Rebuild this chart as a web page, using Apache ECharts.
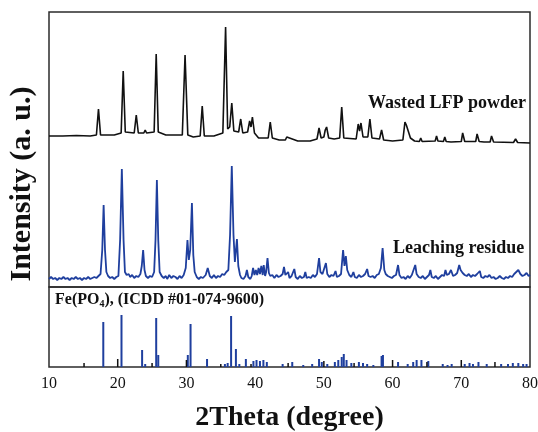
<!DOCTYPE html>
<html>
<head>
<meta charset="utf-8">
<style>html,body{margin:0;padding:0;background:#fff}#c{width:538px;height:432px}</style>
<script src="https://cdn.jsdelivr.net/npm/echarts@6/dist/echarts.min.js"></script>
</head>
<body>
<div id="c"></div>
<script>
// ---- data (2Theta in degrees, intensity in arbitrary units) ----
const xTicks = [10, 20, 30, 40, 50, 60, 70, 80];
const lfpPowder = [
[10.0,7],[12,7],[14,7.5],[16,7],[16.9,8],[17.2,34],[17.5,8],[19.5,8],[20.5,10],[20.8,72],[21.1,11],
[22.4,10],[22.7,28],[23.0,10],[23.8,10],[24.0,13],[24.2,10],[25.3,11],[25.6,89],[25.9,11],[27,8],
[29.4,8],[29.8,88],[30.2,8],[31,6],[32.0,7],[32.3,37],[32.6,7],[34,7],[35.3,10],[35.7,116],[36.0,14],
[36.3,16],[36.6,40],[36.9,12],[37.6,11],[37.9,24],[38.2,10],[38.9,11],[39.2,22],[39.4,16],[39.6,26],
[39.9,10],[40.5,5],[41.9,5],[42.2,21],[42.5,5],[43.5,3],[44.4,3],[44.6,6],[44.8,4],[45.0,5],[45.2,3],
[46.2,2],[46.4,3],[46.6,2],[48,2],[49.0,4],[49.3,15],[49.6,5],[50.0,6],[50.2,13],[50.4,16],[50.7,5],
[51.5,4],[52.3,5],[52.6,36],[52.9,5],[54.7,4],[55.0,19],[55.2,12],[55.4,20],[55.7,6],[56.4,6],[56.7,24],
[57.0,5],[58.1,4],[58.4,13],[58.7,3],[60,2],[61.5,3],[61.8,21],[62.0,18],[62.2,20],[62.6,5],[63.2,2],
[63.9,1.5],[64.1,5],[64.3,1.5],[66.2,2],[66.4,7],[66.6,2],[67.4,1.5],[67.6,6],[67.8,1.5],[68.5,1],
[70.0,1.5],[70.2,10],[70.5,1.5],[72.1,1.5],[72.3,9],[72.6,1.5],[73.3,1],[74.2,1],[74.4,7],[74.7,1],
[77.6,0.5],[77.9,4],[78.2,0.5],[80,0]
];
const leachingResidue = [
[10.0,1],[10.3,3],[10.6,1],[10.9,2],[11.2,0],[11.5,2],[11.8,1],[12.1,3],[12.4,1],[12.7,2],[13.0,0],
[13.3,2],[13.6,1],[13.9,3],[14.2,1],[14.5,2],[14.8,0],[15.1,2],[15.4,1],[15.7,3],[16.0,1],[16.3,2],
[16.6,3],[16.9,2],[17.2,4],[17.5,6],[17.75,30],[17.95,75],[18.15,30],[18.35,8],[18.6,4],[18.9,2],
[19.2,3],[19.5,1],[19.8,3],[20.1,4],[20.35,40],[20.6,111],[20.85,40],[21.05,8],[21.3,5],[21.6,6],
[21.8,3],[22.1,5],[22.4,2],[22.7,4],[23.0,3],[23.3,6],[23.5,14],[23.7,30],[23.9,10],[24.1,4],[24.4,2],
[24.7,4],[25.0,3],[25.3,8],[25.5,40],[25.7,100],[25.9,40],[26.1,8],[26.4,4],[26.7,2],[27.0,4],[27.2,1],
[27.5,5],[27.8,2],[28.1,4],[28.4,3],[28.7,1],[29.0,4],[29.3,2],[29.6,5],[29.9,12],[30.15,40],[30.35,20],
[30.55,30],[30.8,77],[31.0,25],[31.2,8],[31.5,3],[31.8,1],[32.1,3],[32.4,2],[32.8,5],[33.1,12],[33.4,4],
[33.7,2],[34.0,5],[34.3,2],[34.6,4],[34.9,3],[35.2,6],[35.5,5],[35.8,8],[36.1,10],[36.35,45],[36.6,114],
[36.85,45],[37.05,18],[37.35,41],[37.55,14],[37.8,5],[38.0,2],[38.3,1],[38.6,4],[38.8,10],[39.0,3],
[39.3,1],[39.5,4],[39.7,12],[39.9,5],[40.1,10],[40.3,5],[40.5,12],[40.7,6],[40.9,14],[41.1,5],[41.25,15],
[41.45,4],[41.6,8],[41.8,22],[42.0,7],[42.2,4],[42.5,5],[42.8,2],[43.1,5],[43.4,3],[43.7,4],[44.0,6],
[44.2,13],[44.4,5],[44.6,3],[44.8,8],[45.0,2],[45.3,4],[45.7,11],[45.9,3],[46.2,1],[46.5,4],[46.8,2],
[47.1,3],[47.3,8],[47.5,2],[47.8,3],[48.1,2],[48.4,5],[48.7,3],[49.0,6],[49.3,22],[49.5,8],[49.8,6],
[50.0,5],[50.3,17],[50.5,6],[50.8,3],[51.1,5],[51.4,4],[51.7,9],[51.9,3],[52.2,4],[52.5,6],[52.8,30],
[53.0,14],[53.2,24],[53.4,10],[53.7,5],[54.0,3],[54.3,8],[54.5,3],[54.8,2],[55.1,5],[55.4,3],[55.7,4],
[56.0,6],[56.3,11],[56.5,4],[56.8,3],[57.1,4],[57.4,2],[57.7,5],[58.0,6],[58.3,12],[58.55,32],[58.8,10],
[59.0,6],[59.3,4],[59.6,3],[59.9,2],[60.2,4],[60.5,5],[60.8,15],[61.0,5],[61.3,2],[61.6,3],[61.9,1],
[62.2,4],[62.5,2],[62.8,5],[63.0,6],[63.3,15],[63.5,6],[63.8,3],[64.1,2],[64.4,4],[64.7,1],[65.0,3],
[65.3,5],[65.5,10],[65.7,3],[66.0,2],[66.3,4],[66.6,1],[66.9,3],[67.2,5],[67.5,4],[67.7,10],[67.9,5],
[68.2,6],[68.5,10],[68.8,4],[69.1,5],[69.4,7],[69.7,15],[69.9,10],[70.2,7],[70.5,5],[70.8,4],[71.1,6],
[71.4,3],[71.7,5],[72.0,4],[72.3,6],[72.7,9],[72.9,3],[73.2,2],[73.5,4],[73.8,3],[74.1,5],[74.4,2],
[74.7,3],[75.0,1],[75.3,2],[75.6,4],[75.9,2],[76.2,1],[76.5,3],[76.8,2],[77.1,4],[77.4,3],[77.7,6],
[78.0,8],[78.3,10],[78.6,6],[78.9,4],[79.2,5],[79.5,7],[79.8,4],[80.0,5]
];
const icddBlue = [
[17.9,45],[20.55,52],[23.55,17],[24.0,3],[25.6,49],[25.9,12],[30.2,12],[30.6,43],[33.0,8],[35.6,3],
[36.0,4],[36.5,51],[37.2,18],[37.7,3],[38.65,8],[39.75,6],[40.2,7],[40.7,6],[41.2,7],[41.7,5],[44.0,3],
[45.4,5],[47.0,2],[48.3,3],[49.3,8],[49.7,5],[50.5,3],[51.6,5],[52.1,7],[52.6,10],[52.9,13],[53.3,7],
[54.0,4],[55.1,5],[55.7,4],[56.3,3],[57.2,2],[58.4,11],[58.6,12],[60.8,5],[62.2,3],[63.0,5],[63.5,7],
[64.2,7],[65.2,6],[67.3,3],[68.0,2],[68.6,3],[70.5,3],[71.2,4],[71.7,3],[72.5,5],[73.7,3],[75.8,3],
[76.8,3],[77.5,4],[78.3,4],[79.0,3],[79.5,3]
];
const icddBlack = [
[15.1,4],[20.0,8],[25.0,4],[30.0,7],[35.0,3],[39.4,3],[44.8,4],[50.0,6],[54.4,4],[60.0,7],[65.0,5],
[70.0,7],[74.9,5]
];
const LFP_OFFSET = 144;
const RES_OFFSET = 7;

const serif = '"Liberation Serif", "Times New Roman", serif';
const chart = echarts.init(document.getElementById('c'), null, {renderer: 'canvas'});
const frame = '#2b2b2b';
const blue = '#1f3f9e';

function stickRenderer(width, color) {
  return function (params, api) {
    const top = api.coord([api.value(0), api.value(1)]);
    const base = api.coord([api.value(0), 0]);
    return {
      type: 'rect',
      shape: {x: top[0] - width / 2, y: top[1], width: width, height: base[1] - top[1]},
      style: {fill: color}
    };
  };
}

chart.setOption({
  animation: false,
  backgroundColor: '#fff',
  grid: [
    {left: 49, right: 8, top: 12, height: 275, show: true, borderColor: frame, borderWidth: 1.5,
     backgroundColor: 'transparent', containLabel: false, outerBoundsMode: 'none'},
    {left: 49, right: 8, top: 287, height: 80, show: true, borderColor: frame, borderWidth: 1.5,
     backgroundColor: 'transparent', containLabel: false, outerBoundsMode: 'none'}
  ],
  xAxis: [
    {gridIndex: 0, type: 'value', min: 10, max: 80, interval: 10, show: false},
    {gridIndex: 1, type: 'value', min: 10, max: 80, interval: 10,
     axisLine: {show: false}, axisTick: {show: false}, splitLine: {show: false},
     axisLabel: {fontFamily: serif, fontSize: 16, color: '#111', margin: 9,
       customValues: xTicks},
     name: '2Theta (degree)', nameLocation: 'middle', nameGap: 37,
     nameTextStyle: {fontFamily: serif, fontSize: 28, fontWeight: 'bold', color: '#111'}}
  ],
  yAxis: [
    {gridIndex: 0, type: 'value', min: 0, max: 275, show: false},
    {gridIndex: 1, type: 'value', min: 0, max: 80, show: false}
  ],
  graphic: [
    {type: 'text', x: 22, y: 184, rotation: Math.PI / 2,
     style: {text: 'Intensity (a. u.)', fontFamily: serif, fontSize: 30, fontWeight: 'bold', fill: '#111',
             textAlign: 'center', textVerticalAlign: 'middle'}},
    {type: 'text', x: 368, y: 103,
     style: {text: 'Wasted LFP powder', fontFamily: serif, fontSize: 18, fontWeight: 'bold', fill: '#111',
             textAlign: 'left', textVerticalAlign: 'middle'}},
    {type: 'text', x: 393, y: 248,
     style: {text: 'Leaching residue', fontFamily: serif, fontSize: 18, fontWeight: 'bold', fill: '#111',
             textAlign: 'left', textVerticalAlign: 'middle'}},
    {type: 'text', x: 55, y: 300,
     style: {text: '{n|Fe(PO}{s|4}{n|), (ICDD #01-074-9600)}', textAlign: 'left', textVerticalAlign: 'middle',
             rich: {n: {fontFamily: serif, fontSize: 16, fontWeight: 'bold', fill: '#111'},
                    s: {fontFamily: serif, fontSize: 10, fontWeight: 'bold', fill: '#111', verticalAlign: 'bottom', padding: [8, 0, 0, 0]}}}}
  ],
  series: [
    {type: 'line', xAxisIndex: 0, yAxisIndex: 0, symbol: 'none', silent: true,
     lineStyle: {color: '#111', width: 1.6},
     data: lfpPowder.map(p => [p[0], p[1] + LFP_OFFSET])},
    {type: 'line', xAxisIndex: 0, yAxisIndex: 0, symbol: 'none', silent: true,
     lineStyle: {color: blue, width: 1.8},
     data: leachingResidue.map(p => [p[0], p[1] + RES_OFFSET])},
    {type: 'custom', xAxisIndex: 1, yAxisIndex: 1, silent: true,
     renderItem: stickRenderer(2, blue), data: icddBlue},
    {type: 'custom', xAxisIndex: 1, yAxisIndex: 1, silent: true,
     renderItem: stickRenderer(1.5, '#111'), data: icddBlack}
  ]
});
</script>
</body>
</html>
